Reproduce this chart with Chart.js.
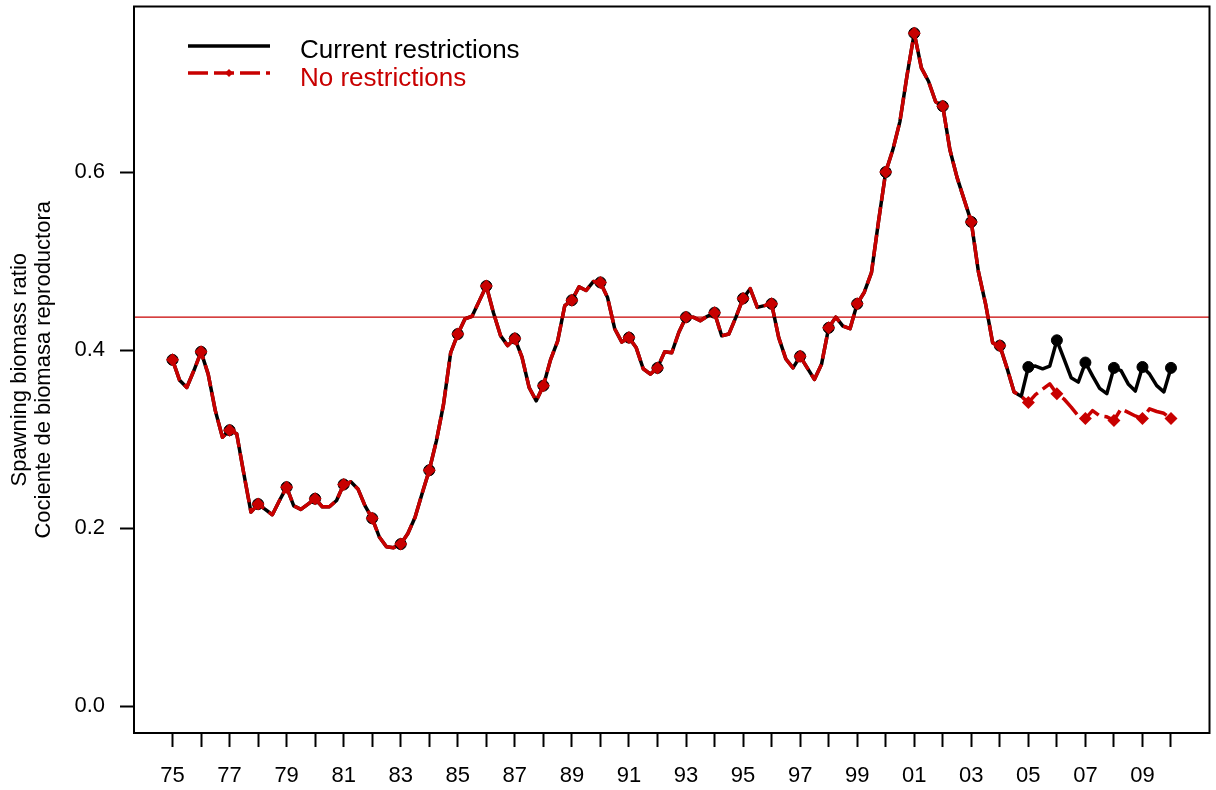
<!DOCTYPE html>
<html>
<head>
<meta charset="utf-8">
<title>Spawning biomass ratio</title>
<script src="https://cdn.jsdelivr.net/npm/chart.js@4"></script>
<style>
  html, body { margin: 0; padding: 0; background: #fff; }
  #wrap { width: 1216px; height: 790px; position: relative; }
</style>
</head>
<body>
<div id="wrap"><canvas id="grafico"></canvas></div>
<script>
// quarterly values, first one is 1975 Q1
const firstYear = 1975;
const perYear = 4;

// 1975.00 - 2004.75, same for both runs
const history = [
  0.389, 0.366, 0.358, 0.377,  // 1975
  0.398, 0.373, 0.332, 0.302,  // 1976
  0.310, 0.306, 0.261, 0.218,  // 1977
  0.227, 0.221, 0.215, 0.231,  // 1978
  0.246, 0.225, 0.221, 0.227,  // 1979
  0.233, 0.224, 0.224, 0.231,  // 1980
  0.249, 0.252, 0.244, 0.225,  // 1981
  0.211, 0.190, 0.179, 0.178,  // 1982
  0.182, 0.194, 0.212, 0.239,  // 1983
  0.265, 0.298, 0.339, 0.397,  // 1984
  0.418, 0.435, 0.438, 0.455,  // 1985
  0.472, 0.442, 0.416, 0.405,  // 1986
  0.413, 0.392, 0.358, 0.343,  // 1987
  0.360, 0.389, 0.410, 0.450,  // 1988
  0.456, 0.471, 0.467, 0.477,  // 1989
  0.476, 0.459, 0.424, 0.409,  // 1990
  0.414, 0.403, 0.379, 0.373,  // 1991
  0.380, 0.398, 0.397, 0.420,  // 1992
  0.437, 0.437, 0.433, 0.438,  // 1993
  0.442, 0.416, 0.418, 0.437,  // 1994
  0.458, 0.469, 0.448, 0.450,  // 1995
  0.452, 0.414, 0.390, 0.380,  // 1996
  0.393, 0.380, 0.367, 0.384,  // 1997
  0.425, 0.437, 0.427, 0.424,  // 1998
  0.452, 0.465, 0.487, 0.545,  // 1999
  0.600, 0.625, 0.657, 0.709,  // 2000
  0.756, 0.717, 0.702, 0.679,  // 2001
  0.674, 0.625, 0.594, 0.569,  // 2002
  0.544, 0.488, 0.452, 0.408,  // 2003
  0.405, 0.380, 0.353, 0.348   // 2004
];

// projections 2005.00 - 2010.00
const currentRestrictions = [
  0.381, 0.382, 0.379, 0.382,
  0.411, 0.390, 0.369, 0.364,
  0.386, 0.371, 0.357, 0.351,
  0.380, 0.377, 0.362, 0.354,
  0.381, 0.373, 0.360, 0.353,
  0.380
];
const noRestrictions = [
  0.341, 0.350, 0.356, 0.362,
  0.351, 0.345, 0.336, 0.326,
  0.323, 0.332, 0.326, 0.325,
  0.321, 0.334, 0.330, 0.326,
  0.323, 0.334, 0.331, 0.329,
  0.323
];

const referenceRatio = 0.437;

const tickYears = [
  1975, 1976, 1977, 1978, 1979, 1980, 1981, 1982, 1983, 1984, 1985, 1986,
  1987, 1988, 1989, 1990, 1991, 1992, 1993, 1994, 1995, 1996, 1997, 1998,
  1999, 2000, 2001, 2002, 2003, 2004, 2005, 2006, 2007, 2008, 2009, 2010
];
const yTicks = [0, 0.2, 0.4, 0.6];

const seriesNames = ['Current restrictions', 'No restrictions'];

const ROJO = '#c80000';
const FONTE = '"Liberation Sans", Arial, sans-serif';

function toPoints(values) {
  return values.map((v, i) => ({ x: firstYear + i / perYear, y: v }));
}

const xMin = 1973.65, xMax = 2011.35;

// markers only on the first quarter of each year
const yearMarker = size => ctx => (ctx.dataIndex % perYear === 0 ? size : 0);

// frame around the plot and the legend in its top left corner
const plotFrame = {
  id: 'plotFrame',
  afterDraw(chart) {
    const { ctx, chartArea: a } = chart;
    ctx.save();
    ctx.strokeStyle = '#000';
    ctx.lineWidth = 2;
    ctx.strokeRect(a.left, a.top, a.right - a.left, a.bottom - a.top);

    // legend
    ctx.lineCap = 'butt';
    ctx.lineWidth = 3.5;
    ctx.beginPath();
    ctx.moveTo(188, 46);
    ctx.lineTo(270, 46);
    ctx.stroke();

    ctx.strokeStyle = ROJO;
    ctx.setLineDash([20, 6]);
    ctx.beginPath();
    ctx.moveTo(188, 73);
    ctx.lineTo(270, 73);
    ctx.stroke();
    ctx.setLineDash([]);
    ctx.fillStyle = ROJO;
    ctx.beginPath();
    ctx.moveTo(229, 69);
    ctx.lineTo(233, 73);
    ctx.lineTo(229, 77);
    ctx.lineTo(225, 73);
    ctx.closePath();
    ctx.fill();

    ctx.font = '26px ' + FONTE;
    ctx.textAlign = 'left';
    ctx.textBaseline = 'alphabetic';
    ctx.fillStyle = '#000';
    ctx.fillText(seriesNames[0], 300, 58);
    ctx.fillStyle = ROJO;
    ctx.fillText(seriesNames[1], 300, 86);
    ctx.restore();
  }
};

new Chart(document.getElementById('grafico'), {
  type: 'line',
  data: {
    datasets: [
      {
        label: seriesNames[1],
        data: toPoints(history.concat(noRestrictions)),
        borderColor: ROJO,
        backgroundColor: ROJO,
        borderWidth: 3.5,
        borderDash: [22, 6],
        borderJoinStyle: 'round',
        pointStyle: 'rectRot',
        pointRadius: yearMarker(6.5),
        pointBorderWidth: 0,
        pointBackgroundColor: ROJO,
        tension: 0,
        order: 1
      },
      {
        label: seriesNames[0],
        data: toPoints(history.concat(currentRestrictions)),
        borderColor: '#000',
        backgroundColor: '#000',
        borderWidth: 3.5,
        borderJoinStyle: 'round',
        pointStyle: 'circle',
        pointRadius: yearMarker(5.5),
        pointBorderWidth: 1,
        pointBackgroundColor: '#000',
        tension: 0,
        order: 2
      },
      {
        label: 'reference',
        data: [{ x: xMin, y: referenceRatio }, { x: xMax, y: referenceRatio }],
        borderColor: ROJO,
        borderWidth: 1.3,
        pointRadius: 0,
        order: 3
      }
    ]
  },
  options: {
    responsive: true,
    maintainAspectRatio: false,
    animation: false,
    events: [],
    layout: { padding: { top: 5, right: 6, left: 0, bottom: 0 } },
    plugins: {
      legend: { display: false },
      tooltip: { enabled: false }
    },
    scales: {
      x: {
        type: 'linear',
        min: xMin,
        max: xMax,
        afterBuildTicks: scale => {
          scale.ticks = tickYears.map(v => ({ value: v }));
        },
        afterFit: scale => {
          scale.height = 57;
          scale.paddingLeft = 0;
          scale.paddingRight = 0;
        },
        border: { display: false },
        grid: {
          drawOnChartArea: false,
          drawTicks: true,
          tickLength: 14,
          tickColor: '#000',
          tickWidth: 2
        },
        ticks: {
          autoSkip: false,
          maxRotation: 0,
          padding: 16,
          color: '#000',
          font: { family: FONTE, size: 22 },
          callback: v => ((v - firstYear) % 2 === 0 ? String(v).slice(2) : '')
        }
      },
      y: {
        type: 'linear',
        min: -0.0302,
        max: 0.786,
        afterBuildTicks: scale => {
          scale.ticks = yTicks.map(v => ({ value: v }));
        },
        afterFit: scale => {
          scale.width = 134;
          scale.paddingTop = 0;
          scale.paddingBottom = 0;
        },
        border: { display: false },
        grid: {
          drawOnChartArea: false,
          drawTicks: true,
          tickLength: 14,
          tickColor: '#000',
          tickWidth: 2
        },
        ticks: {
          padding: 15,
          color: '#000',
          font: { family: FONTE, size: 22 },
          callback: v => v.toFixed(1)
        },
        title: {
          display: true,
          text: ['Spawning biomass ratio', 'Cociente de biomasa reproductora'],
          color: '#000',
          font: { family: FONTE, size: 22, lineHeight: 1.1 },
          padding: { top: 8, bottom: 0 }
        }
      }
    }
  },
  plugins: [plotFrame]
});
</script>
</body>
</html>
